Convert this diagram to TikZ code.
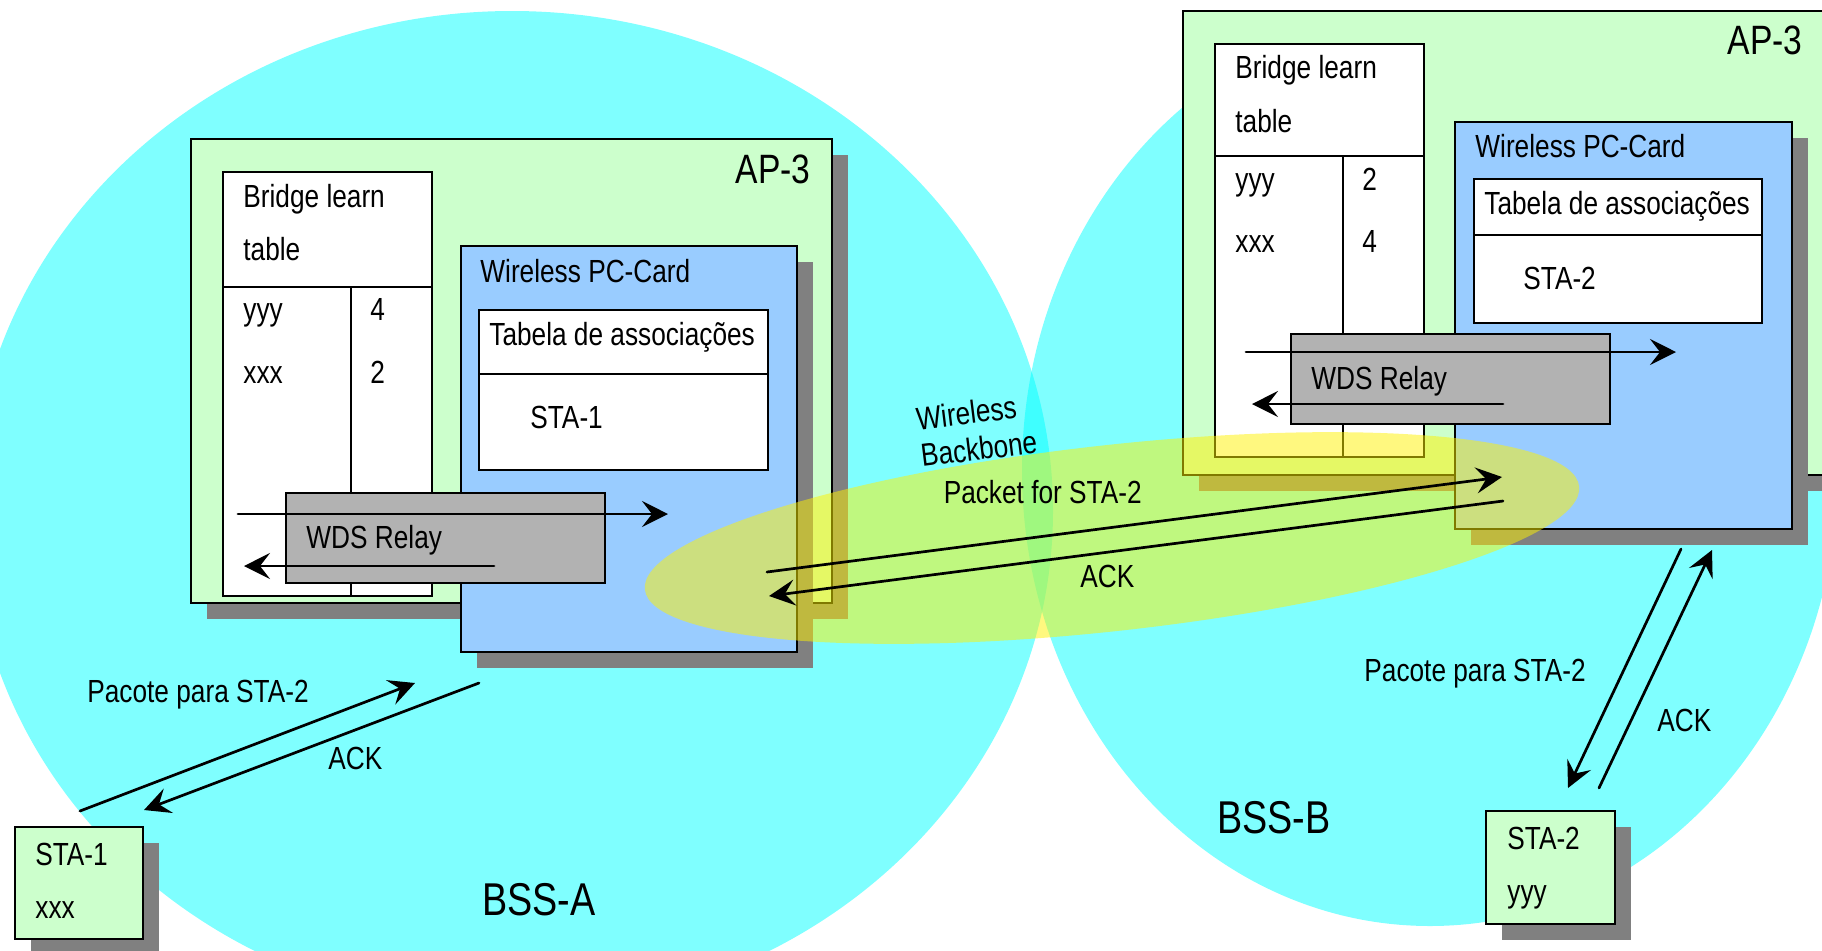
\documentclass[tikz,border=0pt]{standalone}
\usepackage{fontspec}
\setmainfont{Liberation Sans}[FakeStretch=0.82]
\usepackage{tkz-euclide}
\usetikzlibrary{arrows.meta,shadows}

\definecolor{bssfill}{HTML}{00FFFF}
\definecolor{apgreen}{HTML}{CCFFCC}
\definecolor{cardblue}{HTML}{99CCFF}
\definecolor{relaygray}{HTML}{B2B2B2}
\definecolor{shadowgray}{HTML}{808080}

\tikzset{
  boxline/.style={draw=black, line width=1.4pt},
  dropsh/.style={drop shadow={shadow xshift=8pt, shadow yshift=-8pt, fill=shadowgray, opacity=1}},
  apbox/.style={boxline, fill=apgreen, dropsh},
  cardbox/.style={boxline, fill=cardblue, dropsh},
  tabbox/.style={boxline, fill=white},
  relaybox/.style={boxline, fill=relaygray},
  lbl/.style={inner sep=0pt, anchor=base west, font=\fontsize{16}{19}\selectfont},
  aplbl/.style={inner sep=0pt, anchor=base east, font=\fontsize{20.5}{24}\selectfont},
  bsslbl/.style={inner sep=0pt, anchor=base west, font=\fontsize{23}{27}\selectfont},
  sig/.style={line width=1.35pt, -{Stealth[length=13pt, width=13pt, inset=5pt]}},
}

\begin{document}
\begin{tikzpicture}[x=0.5pt, y=-0.5pt]
  \useasboundingbox (0,0) rectangle (1822,950);
  \clip (0,0) rectangle (1822,950);
  \fill[white] (0,0) rectangle (1822,950);
  % the two cells
  \fill[bssfill, opacity=.5] (512,511) ellipse [x radius=541, y radius=500];
  \fill[bssfill, opacity=.5] (1430,470) ellipse [x radius=408, y radius=456];

  % AP-3 in BSS-A
  \path[apbox] (191,139) rectangle (832,603);
  \node[aplbl] (apA) at (811,183) {AP-3};
  \path[tabbox] (223,172) rectangle (432,596);
  \draw[boxline] (223,287) -- (432,287) (351,287) -- (351,596);
  \node[lbl] (blA1) at (243,207) {Bridge learn};
  \node[lbl] (blA2) at (243,260) {table};
  \node[lbl] (blA3) at (243,320) {yyy};
  \node[lbl] (blA4) at (370,320) {4};
  \node[lbl] (blA5) at (243,383) {xxx};
  \node[lbl] (blA6) at (370,383) {2};
  \path[cardbox] (461,246) rectangle (797,652);
  \node[lbl] (pcA) at (480,282) {Wireless PC-Card};
  \path[tabbox] (479,310) rectangle (768,470);
  \draw[boxline] (479,374) -- (768,374);
  \node[lbl] (taA) at (489,345) {Tabela de associações};
  \node[lbl] (stA) at (530,428) {STA-1};
  \path[relaybox] (286,493) rectangle (605,583);
  \node[lbl] (wdsA) at (306,548) {WDS Relay};

  % AP-3 in BSS-B
  \path[apbox] (1183,11) rectangle (1870,475);
  \node[aplbl] (apB) at (1803,54) {AP-3};
  \path[tabbox] (1215,44) rectangle (1424,457);
  \draw[boxline] (1215,156) -- (1424,156) (1343,156) -- (1343,457);
  \node[lbl] (blB1) at (1235,78) {Bridge learn};
  \node[lbl] (blB2) at (1235,132) {table};
  \node[lbl] (blB3) at (1235,190) {yyy};
  \node[lbl] (blB4) at (1362,190) {2};
  \node[lbl] (blB5) at (1235,252) {xxx};
  \node[lbl] (blB6) at (1362,252) {4};
  \path[cardbox] (1455,122) rectangle (1792,529);
  \node[lbl] (pcB) at (1475,157) {Wireless PC-Card};
  \path[tabbox] (1474,179) rectangle (1762,323);
  \draw[boxline] (1474,235) -- (1762,235);
  \node[lbl] (taB) at (1484,214) {Tabela de associações};
  \node[lbl] (stB) at (1523,289) {STA-2};
  \path[relaybox] (1291,334) rectangle (1610,424);
  \node[lbl] (wdsB) at (1311,389) {WDS Relay};

  % stations
  \path[apbox] (15,827) rectangle (143,939);
  \node[lbl] (sta1) at (35,865) {STA-1};
  \node[lbl] (sta1m) at (35,918) {xxx};
  \path[apbox] (1486,811) rectangle (1615,924);
  \node[lbl] (sta2) at (1507,849) {STA-2};
  \node[lbl] (sta2m) at (1507,902) {yyy};

  % wireless backbone
  \fill[yellow, opacity=.5, rotate around={6.3:(1112,538)}] (1112,538) ellipse [x radius=470, y radius=93];

  \tkzDefPoints{238/514/rA1, 668/514/rA2, 494/566/rA3, 244/566/rA4,
    1246/352/rB1, 1676/352/rB2, 1503/404/rB3, 1252/404/rB4,
    767/572/bb1, 1502/477/bb2, 1503/501/bb3, 769/596/bb4,
    80/811/sA1, 415/683/sA2, 479/683/sA3, 144/810/sA4,
    1681/549/sB1, 1568/788/sB2, 1599/788/sB3, 1712/550/sB4}
  \tkzDrawSegments[sig](rA1,rA2 rA3,rA4 rB1,rB2 rB3,rB4)
  \tkzDrawSegments[sig](bb1,bb2 bb3,bb4 sA1,sA2 sA3,sA4 sB1,sB2 sB3,sB4)

  \node[lbl, rotate=7, align=left, font=\fontsize{16}{18.5}\selectfont] (wbb) at (922,467) {Wireless\\Backbone};
  \node[lbl, anchor=base east] (pkt) at (1142,503) {Packet for STA-2};
  \node[lbl] (ackM) at (1080,587) {ACK};
  \node[lbl] (pktA) at (87,702) {Pacote para STA-2};
  \node[lbl] (ackA) at (328,769) {ACK};
  \node[lbl] (pktB) at (1364,681) {Pacote para STA-2};
  \node[lbl] (ackB) at (1657,731) {ACK};
  \node[bsslbl] (bssA) at (482,915) {BSS-A};
  \node[bsslbl] (bssB) at (1217,833) {BSS-B};
\end{tikzpicture}
\end{document}
